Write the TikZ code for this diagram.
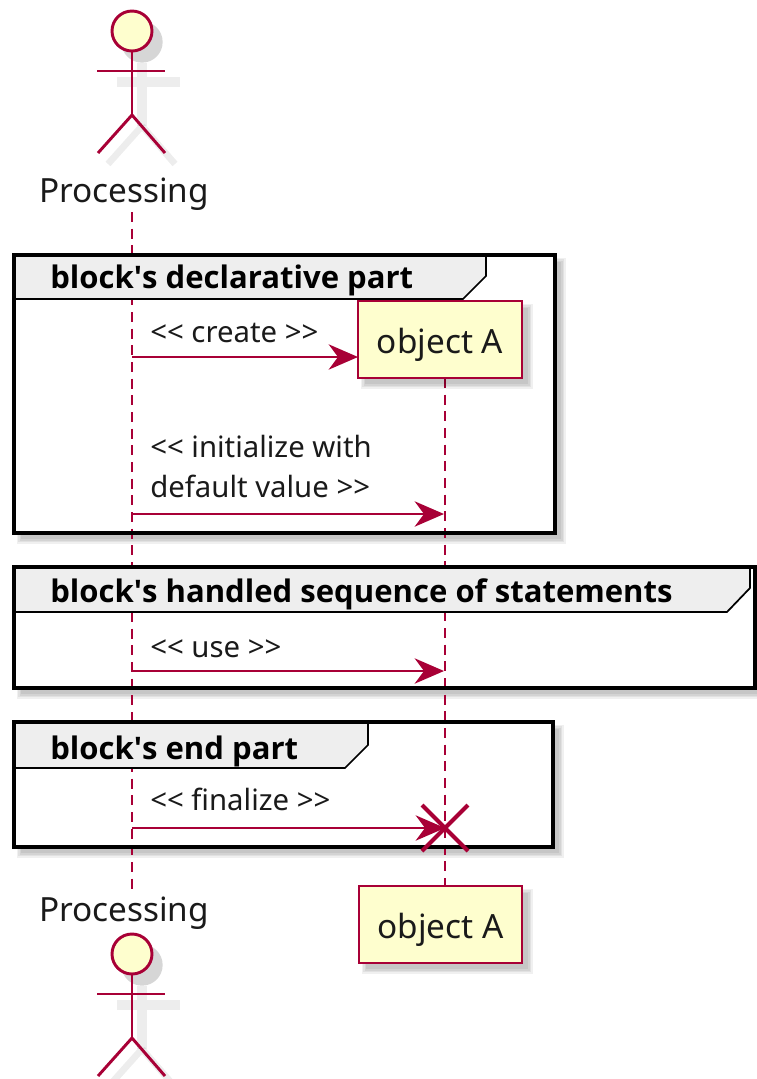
\documentclass[tikz,border=0pt]{standalone}
\usepackage{fontspec}
\setmainfont{Noto Sans}
\newfontfamily\hdrfam{Open Sans}
\usetikzlibrary{arrows.meta,calc}
\definecolor{umlred}{HTML}{A80036}
\definecolor{umlfill}{HTML}{FEFECE}
\definecolor{hdrfill}{HTML}{EEEEEE}
\definecolor{txt}{HTML}{1A1A1A}
\newcommand\myPfont{\fontsize{25}{30}\selectfont}
\newcommand\myMfont{\fontsize{22}{27}\selectfont}
\newcommand\myHfont{\hdrfam\bfseries\fontsize{23.3}{28}\selectfont}
\newcommand\softshadow[4]{%
  \foreach \d in {0,1.5,3,4.5}{\fill[black,opacity=0.06] ({#1-\d},{#2-\d}) rectangle ({#3+\d},{#4+\d});}}
\newcommand\drawactor[2]{%
  \begin{scope}[shift={(#1,#2)}]
    \begin{scope}[shift={(10,11)}]
      \draw[black,opacity=0.07,line width=7pt] (-25,40)--(38,40) (0,21)--(0,84);
      \draw[black,opacity=0.07,line width=5pt] (0,84)--(-34,122) (0,84)--(33,122);
      \fill[black,opacity=0.16] (0,0) circle[radius=15.5pt];
    \end{scope}
    \draw[actorline, fill=umlfill] (0,0) circle[radius=15pt];
    \draw[actorline] (-35,40) -- (33,40);
    \draw[actorline] (0,20) -- (0,84);
    \draw[actorline] (0,84) -- (-34,122);
    \draw[actorline] (0,84) -- (33,122);
  \end{scope}}
\begin{document}
\begin{tikzpicture}[x=0.75pt,y=-0.75pt,
  lifeline/.style={draw=umlred, line width=1.1pt, dash pattern=on 7.5pt off 5pt},
  msg/.style={draw=umlred, line width=1.5pt, -{Stealth[length=22pt,width=19pt,inset=7pt]}},
  framebox/.style={draw=black, line width=3pt},
  tabbox/.style={draw=black, line width=1.3pt, fill=hdrfill},
  partbox/.style={draw=umlred, line width=1.5pt, fill=umlfill, minimum width=122.5pt, minimum height=57.75pt, inner sep=0pt, font=\myPfont, text=txt, text height=21pt, text depth=0.75pt},
  actorline/.style={draw=umlred, line width=2.2pt},
  acttext/.style={anchor=base, inner sep=0pt, font=\myPfont, text=txt},
  msgtext/.style={anchor=base west, inner sep=0pt, font=\myMfont, text=txt},
  hdrtext/.style={anchor=base west, inner sep=0pt, font=\myHfont, text=black},
  xmark/.style={draw=umlred, line width=3pt}
]
\useasboundingbox (0,0) rectangle (757,1079);
\fill[white] (0,0) rectangle (757,1079);

% frame shadows and fills
\softshadow{21}{262}{561}{539}
\softshadow{21}{574}{775}{694}
\softshadow{21}{729}{559}{853}
\fill[white] (14,255) rectangle (555,533);
\fill[white] (14,567) rectangle (755,688);
\fill[white] (14,722) rectangle (553,847);

% lifelines
\coordinate (pl1) at (132,212);
\coordinate (pl2) at (132,889);
\coordinate (ol1) at (445,378);
\coordinate (ol2) at (445,886);
\draw[lifeline] (pl1) -- (pl2);
\draw[lifeline] (ol1) -- (ol2);

% frame 1
\filldraw[tabbox] (14,255) -- (486,255) -- (486,276) -- (463,299) -- (14,299) -- cycle;
\draw[framebox] (14,255) rectangle (555,533);
\node[hdrtext] (h1) at (50,288) {block\textquotesingle s declarative part};

% frame 2
\filldraw[tabbox] (14,567) -- (750,567) -- (750,588) -- (727,612) -- (14,612) -- cycle;
\draw[framebox] (14,567) rectangle (755,688);
\node[hdrtext] (h2) at (50,602) {block\textquotesingle s handled sequence of statements};

% frame 3
\filldraw[tabbox] (14,722) -- (368,722) -- (368,745) -- (345,768) -- (14,768) -- cycle;
\draw[framebox] (14,722) rectangle (553,847);
\node[hdrtext] (h3) at (50,759) {block\textquotesingle s end part};

% participants
\softshadow{365}{308}{528}{384}
\node[partbox] (objA) at (440,339.5) {object A};
\softshadow{366}{893}{528}{969}
\node[partbox] (objB) at (440.5,924.5) {object A};

% actors
\drawactor{132}{31}
\node[acttext] (procT) at (124,202) {Processing};
\drawactor{132}{954}
\node[acttext] (procB) at (124,921) {Processing};

% messages
\coordinate (m1s) at (132,357);
\coordinate (m1e) at (358,357);
\draw[msg] (m1s) -- (m1e);
\node[msgtext] (t1) at (150,342) {<{}< create >{}>};

\coordinate (m2s) at (132,514);
\coordinate (m2e) at (444,514);
\draw[msg] (m2s) -- (m2e);
\node[msgtext] (t2a) at (150,457) {<{}< initialize with};
\node[msgtext] (t2b) at (150,497) {default value >{}>};

\coordinate (m3s) at (132,671);
\coordinate (m3e) at (444,671);
\draw[msg] (m3s) -- (m3e);
\node[msgtext] (t3) at (150,657) {<{}< use >{}>};

\coordinate (m4s) at (132,828);
\coordinate (xend) at (445,828);
\draw[msg] (m4s) -- (xend);
\node[msgtext] (t4) at (150,810) {<{}< finalize >{}>};
\draw[xmark] ($(xend)+(-23,-23)$) -- ($(xend)+(23,23)$);
\draw[xmark] ($(xend)+(23,-23)$) -- ($(xend)+(-23,23)$);
\end{tikzpicture}
\end{document}
